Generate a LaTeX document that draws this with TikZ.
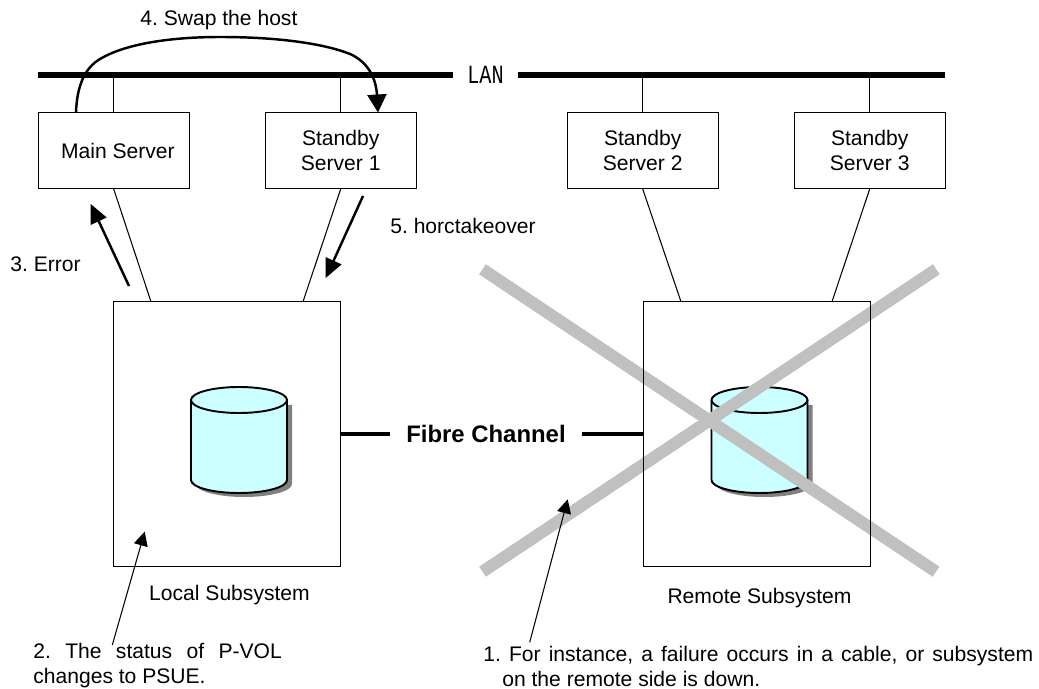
\documentclass[tikz,border=0pt]{standalone}
\usepackage{fontspec}
\setmainfont{Liberation Sans}
\setmonofont{Liberation Mono}
\usetikzlibrary{arrows.meta}
\definecolor{diskcyan}{HTML}{CCFFFF}
\definecolor{crossgray}{HTML}{C0C0C0}
\definecolor{diskshadow}{HTML}{808080}
\tikzset{
	every node/.style={font=\fontsize{12pt}{14.2pt}\selectfont\frenchspacing, inner sep=0pt},
	serverbox/.style={draw, line width=0.6pt, fill=white, minimum width=3.02cm, minimum height=1.52cm, align=center},
	subsysbox/.style={draw, line width=0.6pt, minimum width=4.54cm, minimum height=5.3cm},
	thinline/.style={line width=0.6pt},
	busline/.style={line width=3.4pt},
	fcline/.style={line width=2.3pt},
	crossline/.style={line width=6.9pt, crossgray},
	stepline/.style={line width=1.4pt, -{Triangle[length=0.36cm, width=0.38cm]}},
	errline/.style={line width=1.4pt, -{Triangle[length=0.38cm, width=0.34cm]}},
	pointer/.style={line width=0.6pt, -{Triangle[length=0.28cm, width=0.28cm]}},
	lbl/.style={anchor=base west, align=left}
}
\begin{document}
\begin{tikzpicture}[x=0.02cm, y=-0.02cm]
	\useasboundingbox (0,0) rectangle (1039,689);

	\foreach \cx in {239, 759.5} {
		\fill[diskshadow] (\cx-48+5,400+5) -- (\cx+48+5,400+5) -- (\cx+48+5,480+4)
			arc[start angle=0, end angle=180, x radius=48, y radius=13] -- cycle;
		\draw[line width=1.1pt, fill=diskcyan] (\cx-48,400) -- (\cx-48,480)
			arc[start angle=180, end angle=0, x radius=48, y radius=13] -- (\cx+48,400);
		\draw[line width=1.1pt, fill=diskcyan] (\cx,400) ellipse[x radius=48, y radius=13];
	}

	\draw[crossline] (482.5,269.3) -- (936,571.7);
	\draw[crossline] (482.5,571.7) -- (936.3,269.3);

	\node[subsysbox] (local) at (227.2,434.4) {};
	\node[subsysbox] (remote) at (756.7,434.4) {};

	% servers
	\node[serverbox] (main) at (113.7,150.5) {\hspace*{0.17cm}Main Server};
	\node[serverbox] (standbyone) at (340.7,150.5) {Standby\\Server 1};
	\node[serverbox] (standbytwo) at (642.7,150.5) {Standby\\Server 2};
	\node[serverbox] (standbythree) at (869.7,150.5) {Standby\\Server 3};

	% lan
	\coordinate (lanleft) at (38,75);
	\coordinate (lanright) at (945,75);
	\node[font=\ttfamily\fontsize{11.5pt}{14pt}\selectfont, minimum width=1.3cm] (lan) at (485.5,75) {\scalebox{1}[1.3]{LAN}};
	\draw[busline] (lanleft) -- (lan.west);
	\draw[busline] (lan.east) -- (lanright);
	\foreach \srv in {main, standbyone, standbytwo, standbythree} {
		\draw[thinline] (\srv.north) -- (\srv.north |- lan);
	}

	% server to subsystem
	\coordinate (localin) at (151,301.7);
	\coordinate (localout) at (303,301.7);
	\coordinate (remotein) at (681,301.7);
	\coordinate (remoteout) at (832,301.7);
	\draw[thinline] (main.south) -- (localin);
	\draw[thinline] (standbyone.south) -- (localout);
	\draw[thinline] (standbytwo.south) -- (remotein);
	\draw[thinline] (standbythree.south) -- (remoteout);

	% fibre channel
	\node[font=\fontsize{13.6pt}{16pt}\selectfont\bfseries, inner xsep=0.32cm] (fibre) at (486,434) {Fibre Channel};
	\draw[fcline] (local.east |- fibre) -- (fibre.west);
	\draw[fcline] (fibre.east) -- (remote.west |- fibre);

	\node at (229.5,601) [anchor=base] (locallabel) {Local Subsystem};
	\node at (759.5,603) [anchor=base] (remotelabel) {Remote Subsystem};

	% numbered steps
	\node[lbl] (swaplabel) at (140,25.7) {4. Swap the host};
	\node[lbl] (errlabel) at (10,272) {3. Error};
	\node[lbl] (takeoverlabel) at (390,234) {5. horctakeover};
	\node[lbl] (statuslabel) at (33,683) {\makebox[4.97cm][s]{2. The status of P-VOL}\\changes to PSUE.};
	\node[lbl] (failurelabel) at (483,686.7) {\makebox[11cm][s]{1. For instance, a failure occurs in a cable, or subsystem}\\\hspace*{0.38cm}on the remote side is down.};

	\coordinate (swapstart) at (76,112.5);
	\coordinate (swapend) at (378,112.5);
	\draw[stepline] (swapstart) .. controls (77,85) and (85,68) .. (100,59)
		.. controls (125,44) and (170,37) .. (220,37)
		.. controls (280,37) and (325,44) .. (350,54)
		.. controls (368,62) and (376,78) .. (swapend);

	\coordinate (errstart) at (129,286);
	\coordinate (errend) at (90.7,204);
	\draw[errline] (errstart) -- (errend);
	\coordinate (takeoverstart) at (363,196);
	\coordinate (takeoverend) at (325.7,278);
	\draw[errline] (takeoverstart) -- (takeoverend);

	\coordinate (statusstart) at (112.3,645);
	\coordinate (statusend) at (144.7,531.7);
	\draw[pointer] (statusstart) -- (statusend);
	\coordinate (failurestart) at (529.7,642.3);
	\coordinate (failureend) at (567.7,499.3);
	\draw[pointer] (failurestart) -- (failureend);
\end{tikzpicture}
\end{document}
